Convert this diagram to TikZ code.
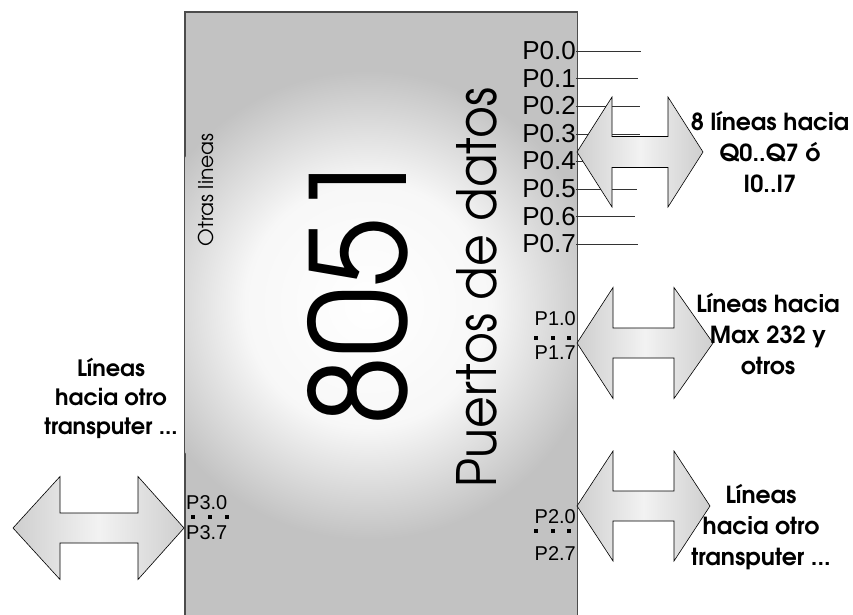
\documentclass[tikz,border=0pt]{standalone}
\usepackage{fontspec}
\usepackage{graphicx}
\IfFontExistsTF{texgyreadventor-regular.otf}
  {\newfontfamily\geo{texgyreadventor}[Extension=.otf,UprightFont=*-regular,BoldFont=*-bold]}
  {\newfontfamily\geo{Poppins}}
\newfontfamily\pfont{Liberation Sans}
\pgfdeclareradialshading{glow}{\pgfpoint{0bp}{0bp}}{color(0bp)=(white); color(13bp)=(white!97!black); color(25bp)=(gray!48); color(50bp)=(gray!48)}
\newcommand\dblarr[7]{\draw[bigarrow] (#1,#2) -- (#3,#2-#6) -- (#3,#2-#7) -- (#4,#2-#7) -- (#4,#2-#6) -- (#5,#2) -- (#4,#2+#6) -- (#4,#2+#7) -- (#3,#2+#7) -- (#3,#2+#6) -- cycle;}
\begin{document}
\begin{tikzpicture}[x=1pt,y=-1pt,
  chip/.style={draw=black!70, line width=0.8pt, fill=gray!48, minimum width=392pt, minimum height=612pt, inner sep=0pt},
  bigarrow/.style={draw=black, line width=0.6pt, left color=gray!38, right color=gray!38, middle color=gray!10},
  pinline/.style={draw=black!80, line width=0.6pt},
  pzero/.style={font=\pfont\fontsize{26}{26}\selectfont, anchor=east, inner sep=0pt},
  pport/.style={font=\pfont\fontsize{20}{20}\selectfont, inner sep=0pt},
  note/.style={font=\geo\bfseries\fontsize{23.5}{31}\selectfont, align=center, inner sep=0pt},
  dotsq/.style={fill=black, minimum size=3.8pt, inner sep=0pt}
]
\useasboundingbox (0,0) rectangle (853,614);
\clip (0,0) rectangle (853,614);
\fill[white] (0,0) rectangle (853,614);

% chip body
\node[chip] (chip) at (381,318) {};
\begin{scope}
  \clip (185,12) rectangle (577,630);
  \shade[shading=glow] (368,305) circle (235);
\end{scope}
\draw[black!70, line width=0.8pt] (chip.north west) rectangle (chip.south east);

% rotated texts
\node[rotate=90, inner sep=0pt] (big) at (357.5,287.5) {\resizebox{275pt}{99pt}{\geo 8051}};
\node[rotate=90, inner sep=0pt] (pd) at (477,287.5) {\resizebox{399pt}{40pt}{\geo Puertos de datos}};
\node[rotate=90, inner sep=0pt] (otras) at (205.5,190) {\resizebox{113pt}{!}{\geo\fontsize{18}{18}\selectfont Otras lineas}};

% port 0 labels and lines
\foreach \i/\yy/\xe in {0/51/641,1/78.5/638,2/106/640,3/134/640,4/161/640,5/189/637,6/216.5/635,7/244/638}{
  \node[pzero] (p0\i) at (576,\yy) {P0.\i};
  \coordinate (e0\i) at (\xe,\yy);
  \draw[pinline] (p0\i.east) -- (e0\i);
}

% arrows
\dblarr{577}{152}{612}{668}{703}{55}{15.5}
\dblarr{577}{343}{613}{674}{713}{55.5}{15}
\dblarr{577}{506}{613}{674}{710}{55}{15}
\dblarr{13}{528}{60}{138}{184}{51.5}{15}

% port 1
\node[pport, anchor=east] (p10) at (576,319) {P1.0};
\node[pport, anchor=east] (p17) at (576,353) {P1.7};
\foreach \x in {536,553,569}{\node[dotsq] at (\x,338) {};}
% port 2
\node[pport, anchor=east] (p20) at (576,517) {P2.0};
\node[pport, anchor=east] (p27) at (576,554) {P2.7};
\foreach \x in {536,553,569}{\node[dotsq] at (\x,531) {};}
% port 3
\node[pport, anchor=west] (p30) at (186,503) {P3.0};
\node[pport, anchor=west] (p37) at (186,533) {P3.7};
\foreach \x in {193,210,227}{\node[dotsq] at (\x,517) {};}

% notes
\node[note] (n0) at (770,152) {8 líneas hacia\\Q0..Q7 ó\\I0..I7};
\node[note] (n1) at (768,334) {Líneas hacia\\Max 232 y\\otros};
\node[note] (n2) at (761,527) {Líneas\\hacia otro\\transputer ...};
\node[note, font=\geo\bfseries\fontsize{22.5}{29}\selectfont] (n3) at (111,398) {Líneas\\hacia otro\\transputer ...};
\end{tikzpicture}
\end{document}
